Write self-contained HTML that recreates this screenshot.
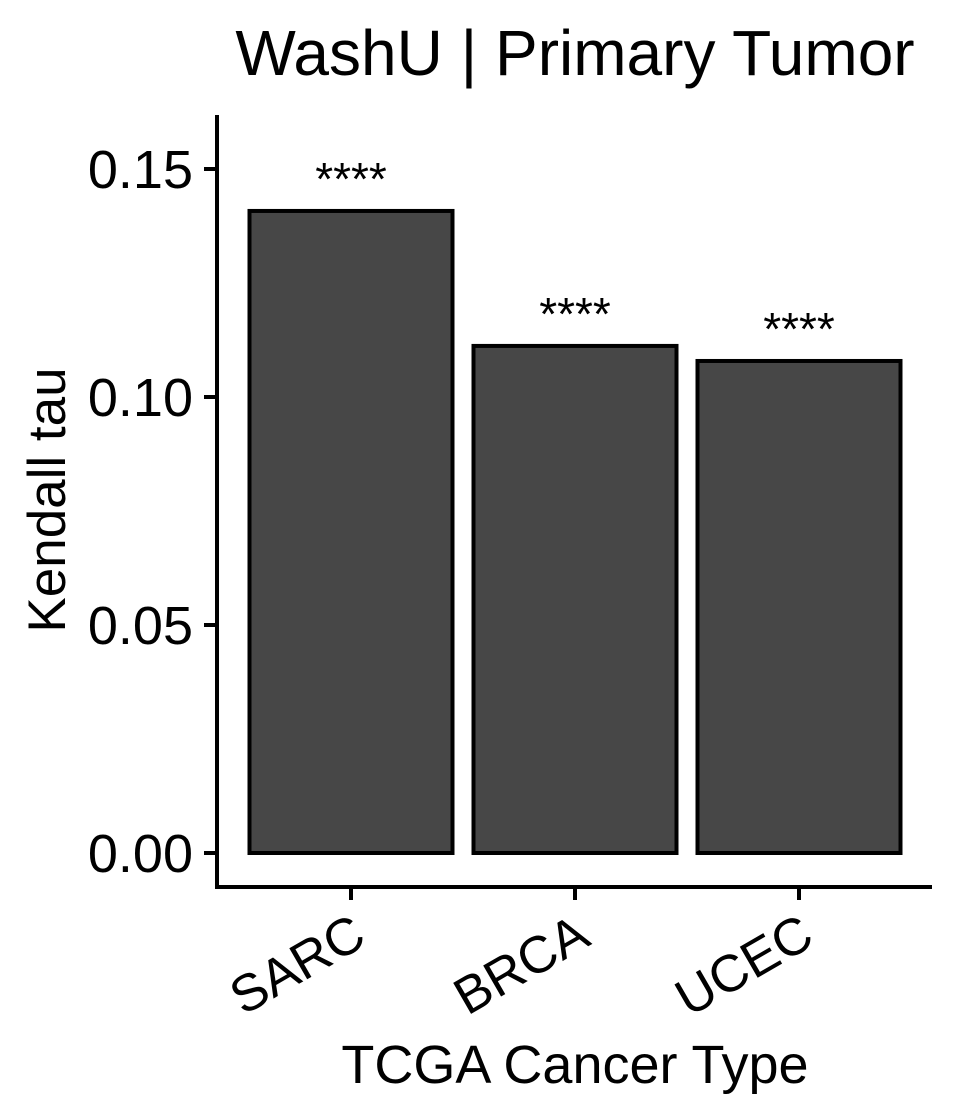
<!DOCTYPE html>
<html><head><meta charset="utf-8"><style>
html,body{margin:0;padding:0;background:#fff}
svg{display:block;font-family:"Liberation Sans",Arial,sans-serif}
</style></head><body>
<svg id="chart" width="960" height="1120" viewBox="0 0 960 1120">
<text x="575" y="75" font-size="64" text-anchor="middle">WashU | Primary Tumor</text>
<text transform="translate(65,500) rotate(-90)" font-size="53" text-anchor="middle">Kendall tau</text>
<text x="575" y="1083" font-size="54" text-anchor="middle">TCGA Cancer Type</text>
<g id="marks"></g>
<line x1="217" y1="115" x2="217" y2="889" stroke="#000" stroke-width="4"/>
<line x1="215" y1="887" x2="932" y2="887" stroke="#000" stroke-width="4"/>
</svg>
<script>
const categories = ["SARC","BRCA","UCEC"];
const values = [0.1408,0.1112,0.1079];
const sigLabels = ["****","****","****"];
const yTicks = [0,0.05,0.10,0.15];
const yTickLabels = ["0.00","0.05","0.10","0.15"];

const NS="http://www.w3.org/2000/svg";
const g=document.getElementById('marks');
function y(v){return 853-v*4560;}
function xc(i){return 351+i*224;}
const bw=203;
function mk(t,a){const e=document.createElementNS(NS,t);for(const k in a)e.setAttribute(k,a[k]);g.appendChild(e);return e;}
yTicks.forEach((t,i)=>{
  const l=mk('line',{x1:204,x2:217,y1:y(t),y2:y(t),stroke:'#000','stroke-width':4});
  
  
  const tx=mk('text',{x:193,y:y(t)+19,'font-size':54,'text-anchor':'end'});
  tx.textContent=yTickLabels[i];
  
  
});
categories.forEach((c,i)=>{
  const cx=xc(i);
  const r=mk('rect',{x:cx-bw/2,y:y(values[i]),width:bw,height:y(0)-y(values[i]),fill:'#474747',stroke:'#000','stroke-width':4});
  
  
  const s=mk('text',{x:cx,y:y(values[i])-16,'font-size':46,'text-anchor':'middle'});
  s.textContent=sigLabels[i];
  
  
  const tk=mk('line',{x1:cx,x2:cx,y1:887,y2:900,stroke:'#000','stroke-width':4});
  
  
  const lb=mk('text',{transform:`translate(${cx-2},910) rotate(-30)`,'font-size':52,'text-anchor':'end',dy:'0.75em'});
  lb.textContent=c;
  
  
});
</script>
</body></html>
